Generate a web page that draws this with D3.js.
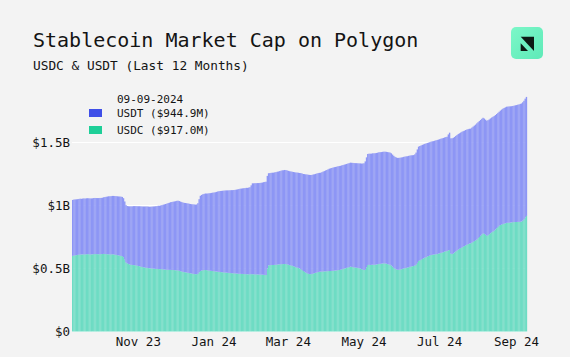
<!DOCTYPE html>
<html>
<head>
<meta charset="utf-8">
<script src="https://cdn.jsdelivr.net/npm/d3@7"></script>
<style>
  html, body { margin: 0; padding: 0; background: #f3f3f3; }
  svg { display: block; }
  text { font-family: "DejaVu Sans Mono", "Liberation Mono", monospace; fill: #141414; }
</style>
</head>
<body>
<svg id="chart" width="570" height="357"></svg>
<script>
// ---- Data (millions USD, daily, starting 2023-09-09) ----
const startDate = "2023-09-09";
const seriesNames = ["USDC", "USDT"];
const usdc = [
600,603,605,606,608,610,612,611,612,613,
612,613,614,613,612,612,613,614,615,614,
614,613,614,614,615,616,615,614,613,613,
612,612,613,612,610,608,606,604,602,600,
598,590,570,548,541,536,532,530,528,527,
526,525,522,520,518,515,512,510,508,506,
505,503,502,501,500,499,498,497,496,496,
495,495,494,493,492,491,490,490,489,489,
488,488,487,486,486,485,482,479,476,473,
471,470,468,466,464,462,460,458,456,455,
455,458,470,480,484,486,487,488,487,485,
484,482,481,480,478,477,476,475,473,472,
471,470,469,468,467,466,465,464,463,462,
462,461,460,459,458,458,457,457,456,455,
455,454,454,455,455,455,454,454,453,453,
452,452,452,451,450,449,448,500,525,526,
527,528,528,529,530,531,532,533,534,535,
535,536,535,533,530,527,525,522,518,514,
510,507,505,500,495,488,480,474,468,463,
458,456,455,457,460,463,466,469,472,474,
475,476,477,477,478,478,479,480,480,481,
482,483,484,485,487,488,490,493,496,499,
502,505,508,511,515,513,511,509,507,506,
505,502,499,495,491,488,490,510,528,529,
528,529,530,530,530,532,534,536,537,538,
540,541,540,538,535,532,530,524,515,505,
498,493,490,490,492,494,497,500,503,505,
507,510,513,516,518,520,524,530,545,560,
565,570,576,581,586,590,595,599,603,607,
609,610,612,613,615,618,621,624,627,630,
634,637,640,644,647,618,615,620,628,636,
643,650,656,662,668,673,678,684,689,694,
698,700,706,712,718,724,730,740,750,760,
770,779,775,768,760,765,772,780,788,794,
800,810,820,830,840,845,849,853,856,859,
862,863,864,865,866,868,868,869,869,870,
870,871,873,880,890,905,917.0
];
const usdt = [
444,444,443,443,442,442,442,442,443,443,
443,444,444,444,444,444,444,445,445,445,
445,446,446,446,447,449,452,455,458,460,
461,462,463,464,465,466,467,468,469,470,
470,468,462,455,455,458,461,463,465,468,
469,470,472,474,476,478,480,482,484,486,
487,488,488,489,491,493,495,497,499,502,
503,505,509,513,517,521,525,529,533,537,
540,542,545,548,551,553,553,552,551,550,
550,550,550,550,550,550,550,551,552,552,
553,560,580,597,600,603,605,607,608,610,
613,616,619,622,625,628,632,636,640,643,
645,647,649,651,653,654,655,657,659,660,
661,663,666,669,672,675,677,679,681,683,
685,686,688,690,705,721,722,723,724,725,
726,727,728,731,735,738,741,735,731,731,
732,732,733,734,735,737,738,740,742,744,
745,746,746,745,745,745,745,746,748,750,
752,754,755,758,762,766,770,775,779,783,
786,787,787,786,786,785,785,785,785,785,
785,788,792,796,800,804,808,812,815,817,
819,821,822,823,824,825,825,825,825,825,
825,825,825,825,825,826,827,828,829,830,
830,832,835,838,842,847,860,872,881,882,
883,883,884,884,885,885,885,886,886,886,
886,886,887,888,889,890,890,890,889,889,
888,888,888,888,887,887,886,886,885,885,
884,884,883,882,881,880,882,890,900,907,
907,906,905,904,903,902,901,900,899,899,
900,901,902,904,905,905,905,906,906,906,
906,906,906,920,931,915,918,917,916,916,
916,917,917,917,917,917,916,915,914,912,
911,910,912,914,916,918,922,921,920,919,
918,917,915,913,913,912,911,911,910,910,
910,908,906,905,904,908,912,915,918,920,
922,922,922,922,922,922,924,926,928,930,
932,935,937,939,941,943,944.9
];
const yTicks = [0, 500, 1000, 1500];
const yTickLabels = ["$0", "$0.5B", "$1B", "$1.5B"];
const xTickDates = ["2023-11-01", "2024-01-01", "2024-03-01", "2024-05-01", "2024-07-01", "2024-09-01"];
const xTickLabels = ["Nov 23", "Jan 24", "Mar 24", "May 24", "Jul 24", "Sep 24"];
const legendDate = "09-09-2024";
const legendItems = ["USDT ($944.9M)", "USDC ($917.0M)"];

// ---- Build ----
const parse = d3.utcParse("%Y-%m-%d");
const fmt = d3.utcFormat("%Y-%m-%d");
const start = parse(startDate);
const rows = usdc.map((v, i) => ({ date: fmt(d3.utcDay.offset(start, i)), USDC: v, USDT: usdt[i] }));

const svg = d3.select("#chart");
const colors = { USDC: "#6edcc4", USDT: "#8d96f5" };
const swatch = { USDT: "#3f4fe8", USDC: "#1ecf98" };

const x = d3.scaleBand().domain(rows.map(d => d.date)).range([72, 527]).padding(0);
const y = d3.scaleLinear().domain([0, 1500]).range([331.5, 142.5]);

// gridlines
svg.append("g").selectAll("line").data(yTicks).join("line")
  .attr("x1", 72).attr("x2", 527)
  .attr("y1", d => y(d)).attr("y2", d => y(d))
  .attr("stroke", "#ffffff").attr("stroke-width", 1.2);

const stack = d3.stack().keys(seriesNames)(rows);
svg.append("g").selectAll("g").data(stack).join("g")
  .attr("fill", s => colors[s.key])
  .selectAll("rect").data(s => s).join("rect")
  .attr("x", d => x(d.data.date))
  .attr("width", x.bandwidth() + 0.15)
  .attr("y", d => y(d[1]))
  .attr("height", d => y(d[0]) - y(d[1]));

// y labels
svg.append("g").selectAll("text").data(yTicks).join("text")
  .attr("x", 70).attr("y", d => y(d)).attr("dy", "0.35em")
  .attr("text-anchor", "end").attr("font-size", 12.5)
  .text((d, i) => yTickLabels[i]);

// x labels
svg.append("g").selectAll("text").data(xTickDates).join("text")
  .attr("x", d => x(d) + x.bandwidth() / 2).attr("y", 346)
  .attr("text-anchor", "middle").attr("font-size", 12.5)
  .text((d, i) => xTickLabels[i]);

// title
svg.append("text").attr("x", 33).attr("y", 47).attr("font-size", 20).text("Stablecoin Market Cap on Polygon");
svg.append("text").attr("x", 33).attr("y", 69.5).attr("font-size", 12.8).text("USDC & USDT (Last 12 Months)");

// legend
svg.append("text").attr("x", 117).attr("y", 103).attr("font-size", 11).text(legendDate);
const leg = svg.append("g").selectAll("g").data(legendItems).join("g")
  .attr("transform", (d, i) => `translate(0, ${113 + i * 17})`);
leg.append("rect").attr("x", 89).attr("y", -4).attr("width", 13).attr("height", 8)
  .attr("fill", (d, i) => swatch[i === 0 ? "USDT" : "USDC"]);
leg.append("text").attr("x", 117).attr("y", 0).attr("dy", "0.35em").attr("font-size", 11).text(d => d);

// logo
const defs = svg.append("defs");
const lg = defs.append("linearGradient").attr("id", "lg").attr("x1", 0).attr("y1", 0).attr("x2", 1).attr("y2", 1);
lg.append("stop").attr("offset", 0).attr("stop-color", "#7cf7c8");
lg.append("stop").attr("offset", 1).attr("stop-color", "#5eeab8");
svg.append("rect").attr("x", 511).attr("y", 27).attr("width", 32).attr("height", 32).attr("rx", 5).attr("fill", "url(#lg)");
svg.append("path").attr("d", "M520.7,36.7 L534,36.7 L534,51 Z").attr("fill", "#0d1a14");
svg.append("path").attr("d", "M520.7,43.3 L528,51 L520.7,51 Z").attr("fill", "#0d1a14");
</script>
</body>
</html>
